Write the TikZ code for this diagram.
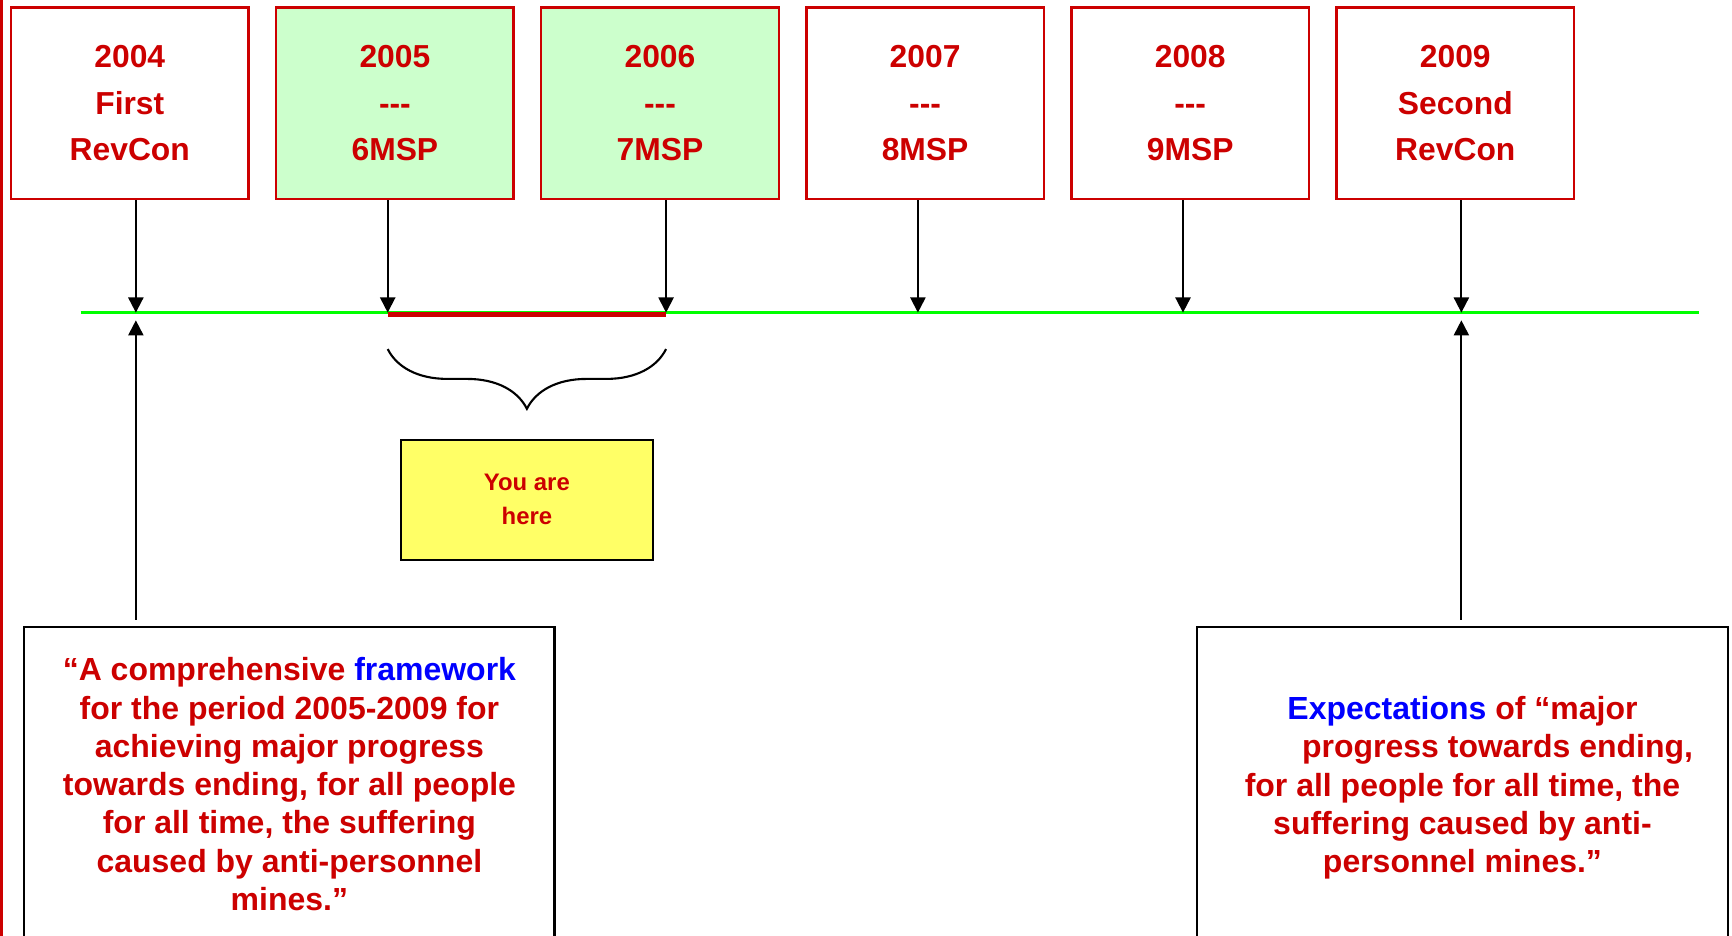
\documentclass[tikz,border=0pt]{standalone}
\usepackage{fontspec}
\setmainfont{Liberation Sans}
\usetikzlibrary{arrows.meta,decorations.pathreplacing,calc}
\definecolor{MRed}{HTML}{CC0000}
\definecolor{MMint}{HTML}{CCFFCC}
\definecolor{MLime}{HTML}{00FF00}
\definecolor{MYellow}{HTML}{FFFF66}
\definecolor{MBlue}{HTML}{0000FF}
\newcommand{\pxu}{0.011046cm}
\newcommand{\tridash}{-\kern0pt-\kern0pt-}
\tikzset{
    year/.style = {draw=MRed, line width=0.7pt, text=MRed,
        minimum width={215*\pxu},
        minimum height={173*\pxu},
        inner sep=0pt, align=center,
        font=\fontsize{9.05}{13.2}\selectfont\bfseries},
    quote/.style = {draw=black, line width=0.6pt, text=MRed,
        minimum width={480*\pxu},
        minimum height={284*\pxu},
        inner sep=0pt, align=center,
        font=\fontsize{9.1}{10.9}\selectfont\bfseries},
    here/.style = {draw=black, line width=0.6pt, fill=MYellow, text=MRed,
        minimum width={228*\pxu},
        minimum height={109*\pxu},
        inner sep=0pt, align=center,
        font=\fontsize{6.8}{9.7}\selectfont\bfseries},
    arrow/.style = {draw, line width=0.55pt, -{Triangle[width=4.3pt,length=4.3pt]}}
}
\begin{document}
\begin{tikzpicture}[x=\pxu,y=-\pxu]
        \useasboundingbox (0,0) rectangle (1568,847);
        \draw[color=MRed,line width=0.85pt] (1.4,0) -- (1.4,847);
        % meetings
        \node [year] (y2004) at (117.5,93.5) {2004\\First\\RevCon};
        \node [year,fill=MMint] (y2005) at (357.5,93.5) {2005\\\tridash\\6MSP};
        \node [year,fill=MMint] (y2006) at (597.5,93.5) {2006\\\tridash\\7MSP};
        \node [year] (y2007) at (837.5,93.5) {2007\\\tridash\\8MSP};
        \node [year] (y2008) at (1077.5,93.5) {2008\\\tridash\\9MSP};
        \node [year] (y2009) at (1317.5,93.5) {2009\\Second\\RevCon};
        % time line
        \coordinate (t2004) at (123,283);
        \coordinate (t2005) at (351,283);
        \coordinate (t2006) at (603,283);
        \coordinate (t2007) at (831,283);
        \coordinate (t2008) at (1071,283);
        \coordinate (t2009) at (1323,283);
        \draw[color=MLime,line width=0.85pt] (73,283) -- (1538,283);
        \draw[color=MRed,line width=1.5pt] ([yshift=-0.5pt]t2005) -- ([yshift=-0.5pt]t2006);
        \draw [arrow] (y2004.south -| t2004) -- (t2004);
        \draw [arrow] (y2005.south -| t2005) -- (t2005);
        \draw [arrow] (y2006.south -| t2006) -- (t2006);
        \draw [arrow] (y2007.south -| t2007) -- (t2007);
        \draw [arrow] (y2008.south -| t2008) -- (t2008);
        \draw [arrow] (y2009.south -| t2009) -- (t2009);
        % you are here
        \draw [line width=0.6pt,decorate,decoration={brace,mirror,amplitude=17pt}]
            ($(t2005)+(0,33)$) -- ($(t2006)+(0,33)$);
        \node [here] (now) at (477,452.5) {You are\\here};
        % quotes
        \node [quote] (fwk) at (262,710) {“A comprehensive \textcolor{MBlue}{framework}\\for the period 2005-2009 for\\achieving major progress\\towards ending, for all people\\for all time, the suffering\\caused by anti-personnel\\mines.”};
        \node [quote] (expect) at (1324,710) {\rule{0pt}{8.6pt}\textcolor{MBlue}{Expectations} of “major\\\hspace*{20pt}progress towards ending,\\for all people for all time, the\\suffering caused by anti-\\personnel mines.”};
        \coordinate (u2004) at (123,290);
        \coordinate (u2009) at (1323,290);
        \draw [arrow] ([yshift=1.9pt]fwk.north -| u2004) -- (u2004);
        \draw [arrow] ([yshift=1.9pt]expect.north -| u2009) -- (u2009);
\end{tikzpicture}
\end{document}
